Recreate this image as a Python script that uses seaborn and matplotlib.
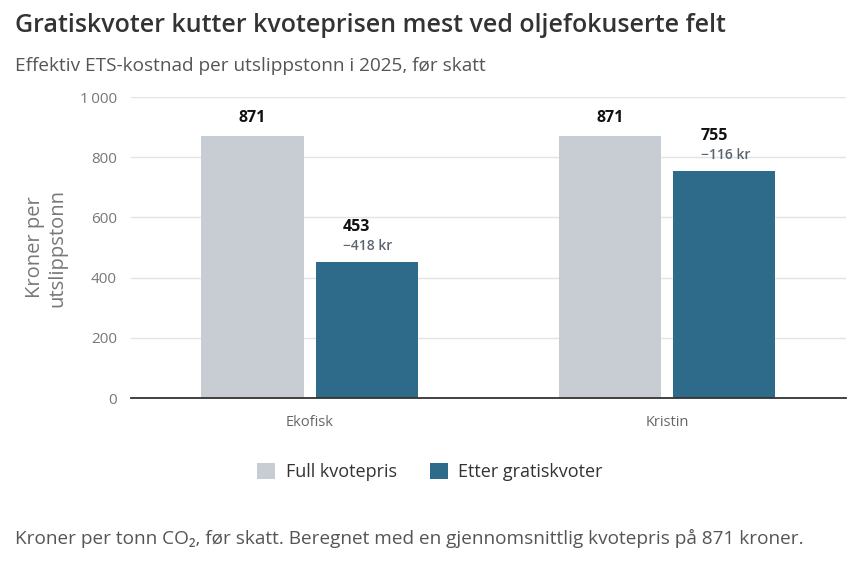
import pandas as pd
import numpy as np
import matplotlib
matplotlib.use("Agg")
import matplotlib.pyplot as plt
from matplotlib.patches import Patch
import seaborn as sns

# data
felt = ["Ekofisk", "Kristin"]
full_kvotepris = [871, 871]
etter_gratiskvoter = [453, 755]
endring = [-418, -116]
serier = ["Full kvotepris", "Etter gratiskvoter"]
farger = ["#c8cdd3", "#2e6a8a"]
y_ticks = [0, 200, 400, 600, 800, 1000]

df = pd.DataFrame({
    "felt": felt * 2,
    "serie": [serier[0]] * 2 + [serier[1]] * 2,
    "verdi": full_kvotepris + etter_gratiskvoter,
})

sns.set_theme(style="white")
plt.rcParams["font.family"] = ["Open Sans", "DejaVu Sans"]

fig = plt.figure(figsize=(8.6, 5.73), dpi=100)
ax = fig.add_axes([0.152, 0.3054, 0.832, 0.5253])

sns.barplot(data=df, x="felt", y="verdi", hue="serie", palette=farger,
            width=0.638, gap=0.105, ax=ax, legend=False, saturation=1,
            linewidth=0)

ax.set_ylim(0, 1000)
ax.set_xlim(-0.5, 1.5)
ax.set_yticks(y_ticks)
ax.set_yticklabels([f"{v:,}".replace(",", "\u2009") for v in y_ticks],
                   color="#777777", fontsize=11)
ax.tick_params(axis="y", length=0, pad=10)
ax.tick_params(axis="x", length=0, pad=12, labelsize=10.5, labelcolor="#666666")
ax.grid(axis="y", color="#e3e3e3", linewidth=1)
ax.set_axisbelow(True)
for s in ["top", "right", "left"]:
    ax.spines[s].set_visible(False)
ax.spines["bottom"].set_color("#333333")
ax.spines["bottom"].set_linewidth(1.3)
ax.set_xlabel("")
ax.set_ylabel("Kroner per\nutslippstonn", fontsize=14.5, color="#777777",
              labelpad=9, linespacing=1.15)

# labels
gray_bars = ax.containers[0]
blue_bars = ax.containers[1]
for b, v in zip(gray_bars, full_kvotepris):
    ax.annotate(f"{v}", (b.get_x() + b.get_width() / 2, b.get_height()),
                xytext=(0, 7), textcoords="offset points", ha="center",
                va="bottom", fontsize=11.5, fontweight="bold", color="#111111")
for b, v, d in zip(blue_bars, etter_gratiskvoter, endring):
    cx = b.get_x() + b.get_width() / 2
    ax.annotate(f"{v}", (cx, b.get_height()), xytext=(-17, 19),
                textcoords="offset points", ha="left", va="bottom",
                fontsize=11.5, fontweight="bold", color="#111111")
    ax.annotate(f"\u2212{abs(d)} kr", (cx, b.get_height()), xytext=(-17, 6.5),
                textcoords="offset points", ha="left", va="bottom",
                fontsize=10, fontweight="semibold", color="#5a6470")

# title etc
fig.text(0.017, 0.955, "Gratiskvoter kutter kvoteprisen mest ved oljefokuserte felt",
         fontsize=18, fontweight="semibold", color="#333333", va="center")
fig.text(0.017, 0.885, "Effektiv ETS-kostnad per utslippstonn i 2025, før skatt",
         fontsize=13.7, color="#555555", va="center")
fig.text(0.017, 0.061,
         "Kroner per tonn CO\u2082, før skatt. Beregnet med en gjennomsnittlig kvotepris på 871 kroner.",
         fontsize=13.7, color="#555555", va="center")

handles = [Patch(facecolor=c, edgecolor="none") for c in farger]
fig.legend(handles, serier, loc="center", bbox_to_anchor=(0.5, 0.176),
           ncol=2, frameon=False, fontsize=13, handlelength=1.0,
           handleheight=1.0, handletextpad=0.6, columnspacing=1.8,
           labelcolor="#333333")

fig.savefig("out.png", dpi=100, facecolor="white")
